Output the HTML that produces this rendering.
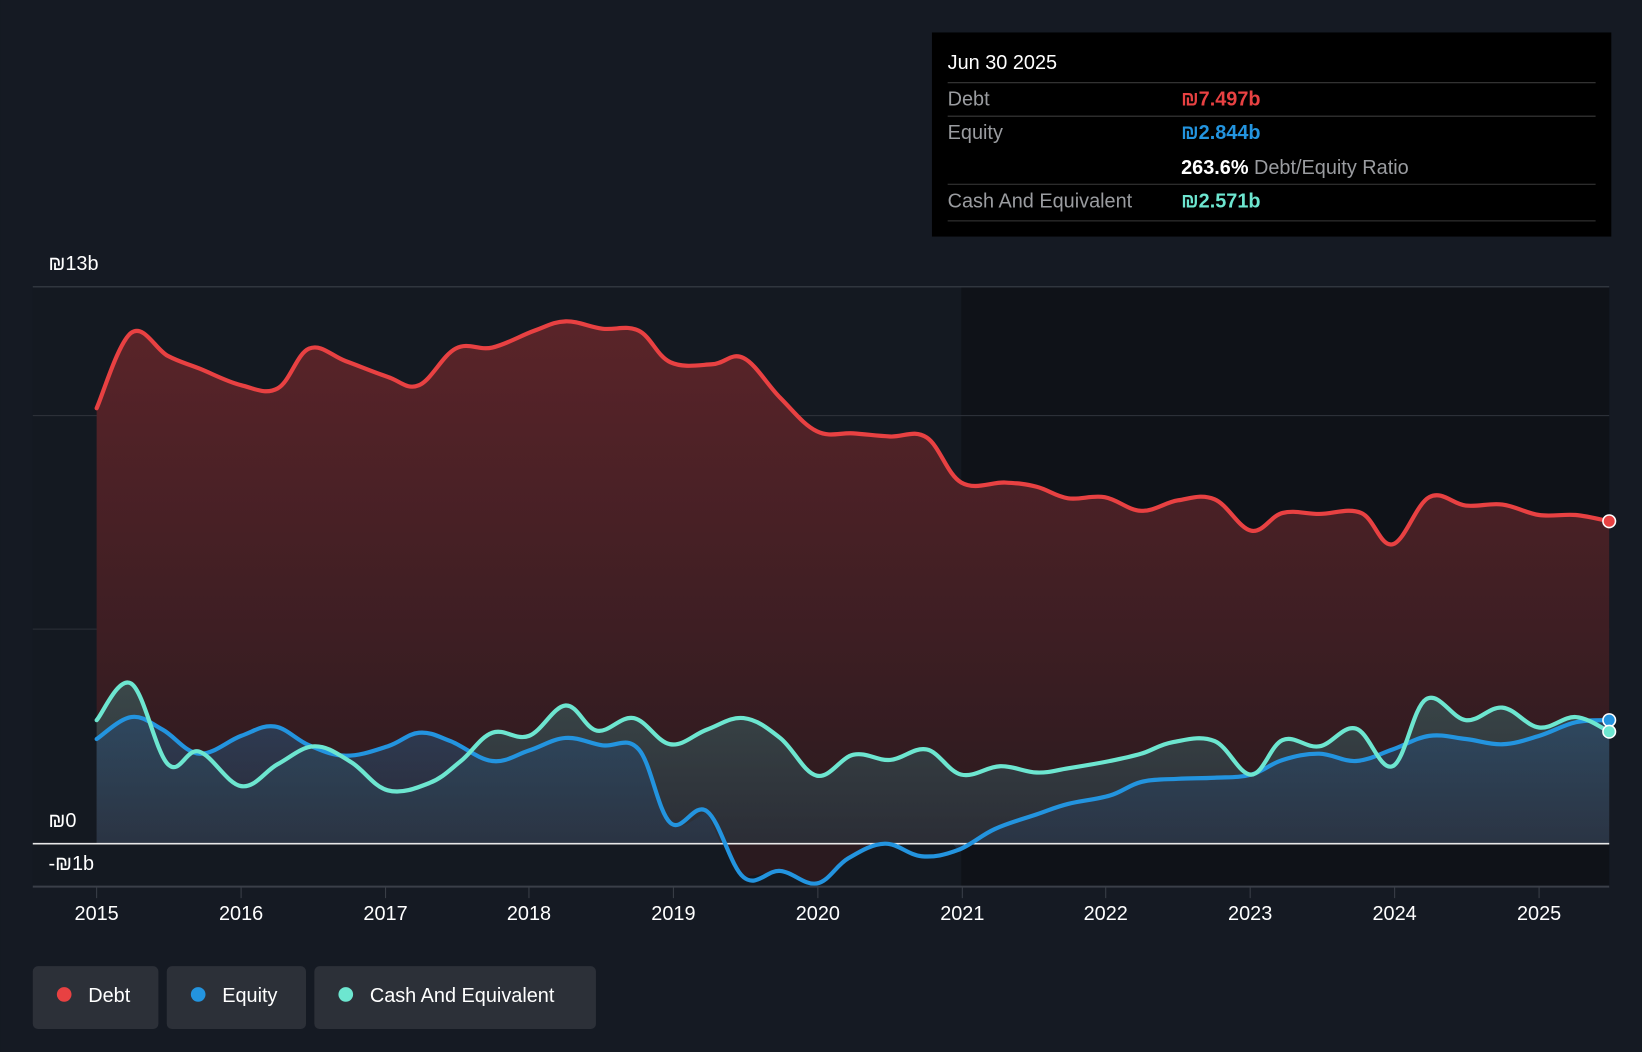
<!DOCTYPE html>
<html><head><meta charset="utf-8"><style>html,body{margin:0;padding:0;background:#151a23;}svg{display:block}</style></head><body>
<svg id="s" width="1642" height="1052" viewBox="0 0 1568 1005" xmlns="http://www.w3.org/2000/svg" font-family="Liberation Sans, sans-serif">
<defs>
<linearGradient id="dg" x1="0" y1="0" x2="0" y2="1"><stop offset="0" stop-color="#5a2429"/><stop offset="1" stop-color="#2a1a1f"/></linearGradient>
<linearGradient id="cg" x1="0" y1="0" x2="0" y2="1"><stop offset="0" stop-color="#3b5a5a" stop-opacity="0.7"/><stop offset="1" stop-color="#2b3a45" stop-opacity="0.6"/></linearGradient>
<linearGradient id="eg" x1="0" y1="0" x2="0" y2="1"><stop offset="0" stop-color="#2a4a6a" stop-opacity="0.7"/><stop offset="1" stop-color="#2a3a50" stop-opacity="0.5"/></linearGradient>
</defs>
<rect width="1568" height="1005" fill="#151a23"/>
<rect x="31" y="274" width="1506" height="573" fill="#141921"/>
<rect x="918" y="274" width="619" height="573" fill="#0f1218"/>
<line x1="31" y1="274" x2="1537" y2="274" stroke="#3a3f48"/>
<line x1="31" y1="397" x2="1537" y2="397" stroke="#2c3038"/>
<line x1="31" y1="601" x2="1537" y2="601" stroke="#2c3038"/>
<path id="dF" fill="url(#dg)"/>
<path id="negF" fill="#2a1a1f" d="M690,806 L710,838 745,832 780,844 810,820 845,806 Z"/>
<path id="cF" fill="url(#cg)"/>
<path id="eF1" fill="url(#eg)"/>
<path id="eF2" fill="url(#eg)"/>
<line x1="31" y1="806" x2="1537" y2="806" stroke="#e8e8e8" stroke-width="1.5"/>
<g fill="none" stroke-width="4" stroke-linejoin="round" stroke-linecap="round">
<path id="eL" stroke="#2394df"/>
<path id="cL" stroke="#6de6d0"/>
<path id="dL" stroke="#e84142"/>
</g>
<circle cx="1537" cy="498" r="6" fill="#e84142" stroke="#fff" stroke-width="1.5"/>
<circle cx="1537" cy="688" r="6" fill="#2394df" stroke="#fff" stroke-width="1.5"/>
<circle cx="1537" cy="699" r="6" fill="#6de6d0" stroke="#fff" stroke-width="1.5"/>
<line x1="31" y1="847" x2="1537" y2="847" stroke="#3a3f48" stroke-width="2"/>
<g fill="#fff" font-size="19">
<text x="46" y="258">₪13b</text>
<text x="46" y="790">₪0</text>
<text x="46" y="831">-₪1b</text>
</g>
<g stroke="#3a3f48"><line x1="92" y1="847" x2="92" y2="858"/><line x1="230" y1="847" x2="230" y2="858"/><line x1="368" y1="847" x2="368" y2="858"/><line x1="505" y1="847" x2="505" y2="858"/><line x1="643" y1="847" x2="643" y2="858"/><line x1="781" y1="847" x2="781" y2="858"/><line x1="919" y1="847" x2="919" y2="858"/><line x1="1056" y1="847" x2="1056" y2="858"/><line x1="1194" y1="847" x2="1194" y2="858"/><line x1="1332" y1="847" x2="1332" y2="858"/><line x1="1470" y1="847" x2="1470" y2="858"/></g>
<g fill="#fff" font-size="19" text-anchor="middle">
<text x="92" y="879">2015</text><text x="230" y="879">2016</text><text x="368" y="879">2017</text><text x="505" y="879">2018</text><text x="643" y="879">2019</text><text x="781" y="879">2020</text><text x="919" y="879">2021</text><text x="1056" y="879">2022</text><text x="1194" y="879">2023</text><text x="1332" y="879">2024</text><text x="1470" y="879">2025</text>
</g>
<rect x="890" y="31" width="649" height="195" fill="#000"/>
<text x="905" y="66" fill="#fff" font-size="19">Jun 30 2025</text>
<g stroke="#3a3a3a"><line x1="905" y1="79" x2="1524" y2="79"/><line x1="905" y1="111" x2="1524" y2="111"/><line x1="905" y1="176" x2="1524" y2="176"/><line x1="905" y1="211" x2="1524" y2="211"/></g>
<g font-size="19" fill="#9a9ca0">
<text x="905" y="101">Debt</text><text x="905" y="133">Equity</text><text x="905" y="198">Cash And Equivalent</text>
</g>
<text x="1128" y="101" fill="#e84142" font-size="19" font-weight="bold">₪7.497b</text>
<text x="1128" y="133" fill="#2394df" font-size="19" font-weight="bold">₪2.844b</text>
<text x="1128" y="166" font-size="19"><tspan fill="#fff" font-weight="bold">263.6%</tspan><tspan fill="#9a9ca0"> Debt/Equity Ratio</tspan></text>
<text x="1128" y="198" fill="#6de6d0" font-size="19" font-weight="bold">₪2.571b</text>
<rect x="31" y="923" width="120" height="60" rx="5" fill="#2c3038"/>
<rect x="159" y="923" width="133" height="60" rx="5" fill="#2c3038"/>
<rect x="300" y="923" width="269" height="60" rx="5" fill="#2c3038"/>
<circle cx="61" cy="950" r="7" fill="#e84142"/><circle cx="189" cy="950" r="7" fill="#2394df"/><circle cx="330" cy="950" r="7" fill="#6de6d0"/>
<g fill="#fff" font-size="19"><text x="84" y="957">Debt</text><text x="212" y="957">Equity</text><text x="353" y="957">Cash And Equivalent</text></g>
</svg>
<script>
function P(s){return s.trim().split(/\s+/).map(function(p){var a=p.split(',');return [+a[0],+a[1]];});}
function smooth(pts){var d='M'+pts[0][0]+','+pts[0][1];for(var i=0;i<pts.length-1;i++){var p0=pts[i-1]||pts[i],p1=pts[i],p2=pts[i+1],p3=pts[i+2]||p2,t=0.18;
var c1x=p1[0]+(p2[0]-p0[0])*t,c1y=p1[1]+(p2[1]-p0[1])*t,c2x=p2[0]-(p3[0]-p1[0])*t,c2y=p2[1]-(p3[1]-p1[1])*t;
d+=' C'+c1x.toFixed(1)+','+c1y.toFixed(1)+' '+c2x.toFixed(1)+','+c2y.toFixed(1)+' '+p2[0]+','+p2[1];}return d;}
var D=P("92,390 125,318 160,340 190,352 230,368 265,371 295,333 330,345 370,360 400,368 435,333 470,332 510,316 540,307 575,314 610,316 640,346 680,348 710,342 745,380 780,412 815,414 850,417 885,418 918,461 960,461 990,465 1020,476 1055,475 1090,488 1125,478 1160,477 1195,507 1225,490 1260,491 1300,490 1330,520 1365,475 1400,483 1435,482 1470,492 1505,492 1537,498");
var E=P("92,706 125,685 155,697 190,720 230,703 262,694 295,712 330,722 370,713 400,700 430,708 470,727 505,717 540,705 575,712 610,716 640,786 675,775 710,838 745,832 780,844 810,820 845,806 880,818 915,812 950,792 990,778 1020,768 1060,760 1090,747 1125,744 1160,743 1195,740 1225,726 1260,720 1295,727 1330,716 1365,703 1400,706 1435,711 1470,703 1505,690 1537,688");
var C=P("92,688 125,653 160,730 190,718 230,751 265,730 300,713 335,728 370,755 410,748 440,727 470,700 505,703 540,674 570,698 605,686 640,711 675,697 710,686 745,705 780,741 815,721 850,726 885,716 918,740 955,732 990,738 1020,734 1060,727 1090,720 1120,709 1160,708 1195,740 1225,707 1260,713 1295,696 1330,732 1362,668 1400,688 1435,676 1470,695 1505,685 1537,699");
function g(id,a){document.getElementById(id).setAttribute('d',a);}
g('dL',smooth(D));g('eL',smooth(E));g('cL',smooth(C));
g('dF',smooth(D)+' L1537,806 L92,806 Z');
g('cF',smooth(C)+' L1537,806 L92,806 Z');
g('eF1',smooth(E.slice(0,18))+' L688,806 L92,806 Z');
g('eF2','M910,806 '+smooth(E.slice(24)).replace(/^M/,'L')+' L1537,806 Z');
</script>
</body></html>
